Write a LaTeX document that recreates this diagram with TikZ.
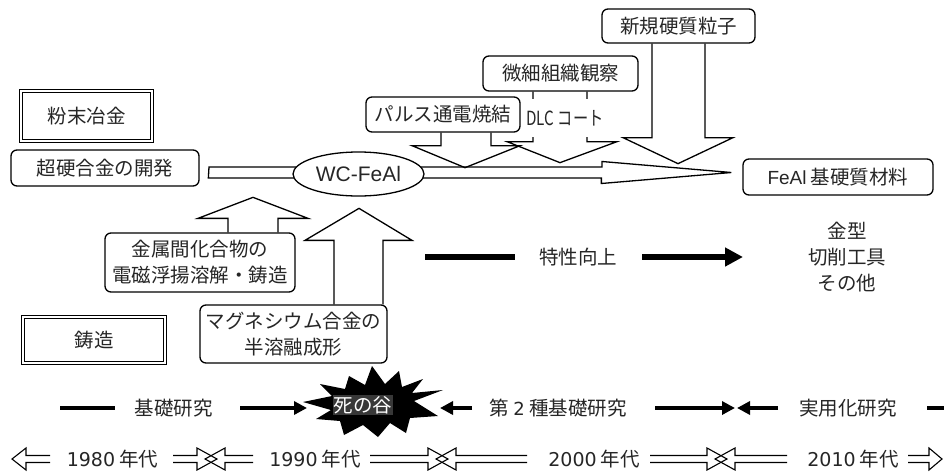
\documentclass[tikz,border=0pt]{standalone}
\usepackage{fontspec}
\setmainfont{Noto Sans CJK JP}
\newfontfamily\latf{Liberation Sans}
\newfontfamily\digf{DejaVu Sans}
\usetikzlibrary{arrows.meta,shapes.geometric}
\newcommand\hollowR[3]{\draw[hol] (#1,455.5) -- ({#2-#3},455.5) -- ({#2-#3},448) -- (#2,459) -- ({#2-#3},470) -- ({#2-#3},462.5) -- (#1,462.5);}
\newcommand\hollowL[3]{\draw[hol] (#2,455.5) -- ({#1+#3},455.5) -- ({#1+#3},448) -- (#1,459) -- ({#1+#3},470) -- ({#1+#3},462.5) -- (#2,462.5);}
\begin{document}
\begin{tikzpicture}[x=1pt,y=-1pt,line join=miter,
  txt/.style={font=\fontsize{19.5}{26}\selectfont, text=black!85, align=center, inner sep=0pt},
  rbox/.style={txt, draw=black, line width=1.3pt, rounded corners=6pt},
  dbox/.style={txt, draw=black, line width=1.1pt, double=white, double distance=2.4pt},
  blk/.style={draw=black, line width=1.3pt, fill=white},
  opn/.style={draw=black, line width=1.3pt},
  hol/.style={draw=black, line width=1.1pt},
  res/.style={line width=4pt},
  tline/.style={line width=5.5pt}]
\useasboundingbox[fill=white] (0,0) rectangle (944,474);

% boxes
\node[dbox, minimum width=131pt, minimum height=50pt] (funm) at (86.5,116) {粉末冶金};
\node[rbox, minimum width=188pt, minimum height=36pt] (chokou) at (105,168) {超硬合金の開発};
\node[rbox, minimum width=190pt, minimum height=36pt] (feal) at (838,177) {{\latf\fontsize{19}{20}\selectfont FeAl} 基硬質材料};
\node[rbox, minimum width=154pt, minimum height=35pt] (pulse) at (443,114.5) {パルス通電焼結};
\node[rbox, minimum width=155pt, minimum height=35pt] (bisai) at (560.5,73.5) {微細組織観察};
\node[rbox, minimum width=153pt, minimum height=34pt] (shinki) at (678.5,26) {新規硬質粒子};
\node[rbox, minimum width=190pt, minimum height=59pt] (kinzoku) at (200,262.5) {金属間化合物の\\電磁浮揚溶解・鋳造};
\node[rbox, minimum width=187pt, minimum height=58pt] (mag) at (293.5,334) {マグネシウム合金の\\半溶融成形};
\node[dbox, minimum width=142pt, minimum height=46pt] (chuzo) at (94,340) {鋳造};

% main arrow
\coordinate (mtail) at (209,172.5);
\coordinate (mtip) at ([xshift=-11pt,yshift=4.5pt]feal.west);
\draw[blk] (mtail) ++(0,-5.5) -- ++(393,0) -- ++(0,-5.5) -- (mtip) -- ++(-130,11) -- ++(0,-5.5) -- ++(-393,0) -- cycle;
\node[txt, draw=black, line width=1.3pt, fill=white, ellipse, minimum width=131pt, minimum height=44pt, font=\latf\fontsize{21}{24}\selectfont] (wc) at (358.5,174) {WC-FeAl};

% down arrows
\draw[opn] ([xshift=-2pt]pulse.south) -- ++(0,13) -- ++(-29,0) -- ++(53,22) -- ++(55,-22) -- ++(-29,0) -- ++(0,-13);
\draw[opn] ([xshift=-27.5pt]bisai.south) -- ++(0,50) -- ++(-26,0) -- ++(53,21) -- ++(57,-21) -- ++(-30,0) -- ++(0,-50);
\node[txt, fill=white, minimum height=38pt, minimum width=74pt] (dlc) at (565,118) {\scalebox{0.78}[1]{DLC コート}};
\draw[opn] ([xshift=-26.5pt]shinki.south) -- ++(0,94) -- ++(-29,0) -- ++(55,26) -- ++(55,-26) -- ++(-28,0) -- ++(0,-94);

% up arrows
\draw[opn] ([xshift=28pt]kinzoku.north) -- ++(0,-14) -- ++(-30,0) -- ++(55,-21) -- ++(55,21) -- ++(-30,0) -- ++(0,14);
\draw[opn] ([xshift=40.5pt]mag.north) -- ++(0,-64) -- ++(-29,0) -- ++(54,-32) -- ++(53,32) -- ++(-29,0) -- ++(0,64);

% 特性向上
\node[txt] (tokusei) at (578,257) {特性向上};
\coordinate (t0) at (425,257);
\coordinate (t1) at (743,257);
\draw[tline] (t0) -- ([xshift=-24pt]tokusei.west);
\draw[tline, -{Triangle[length=18pt,width=18pt]}] ([xshift=25pt]tokusei.east) -- (t1);

\node[txt] (use) at (847,257) {金型\\切削工具\\その他};

% research row
\node[txt] (kiso) at (173.5,408) {基礎研究};
\node[txt] (dai2) at (558,408) {第 {\digf\fontsize{18}{20}\selectfont 2} 種基礎研究};
\node[txt] (jitsu) at (848,408) {実用化研究};
\fill[black] (443,390) -- (414,401) -- (438,416) -- (410,418) -- (406,433) -- (390,423) -- (378,437) -- (363,425) -- (344,435) -- (340,421) -- (316,419) -- (331,410) -- (303,402) -- (332,396) -- (320,384) -- (345,389) -- (349,376) -- (365,385) -- (372,366) -- (385,384) -- (399,371) -- (402,387) -- (423,379) -- (412,393) -- cycle;
\node[txt, fill=black!78, text=white, inner sep=1pt] (shi) at (363,405) {死の谷};
\coordinate (r0) at (60,408);
\coordinate (r1) at (115,408);
\draw[res] (r0) -- (r1);
\draw[res, -{Triangle[length=13pt,width=13pt]}] (240,408) -- (307,408);
\draw[res, -{Triangle[length=13pt,width=13pt]}] (472,408) -- (440,408);
\draw[res, -{Triangle[length=13pt,width=13pt]}] (655,408) -- (735,408);
\draw[res, -{Triangle[length=13pt,width=13pt]}] (778,408) -- (737,408);
\draw[res] (927,408) -- (944,408);

% decades
\node[txt] (d1) at (112.5,459) {{\digf\fontsize{19}{20}\selectfont 1980}\hspace{4pt}年代};
\node[txt] (d2) at (315,459) {{\digf\fontsize{19}{20}\selectfont 1990}\hspace{4pt}年代};
\node[txt] (d3) at (594,459) {{\digf\fontsize{19}{20}\selectfont 2000}\hspace{4pt}年代};
\node[txt] (d4) at (853,459) {{\digf\fontsize{19}{20}\selectfont 2010}\hspace{4pt}年代};
\hollowL{12}{50}{14}
\hollowR{173}{217}{20}
\hollowL{205}{253}{20}
\hollowR{370}{448}{20}
\hollowL{436}{527}{20}
\hollowR{650}{727}{20}
\hollowL{715}{787}{20}
\hollowR{908}{942}{13}
\end{tikzpicture}
\end{document}
